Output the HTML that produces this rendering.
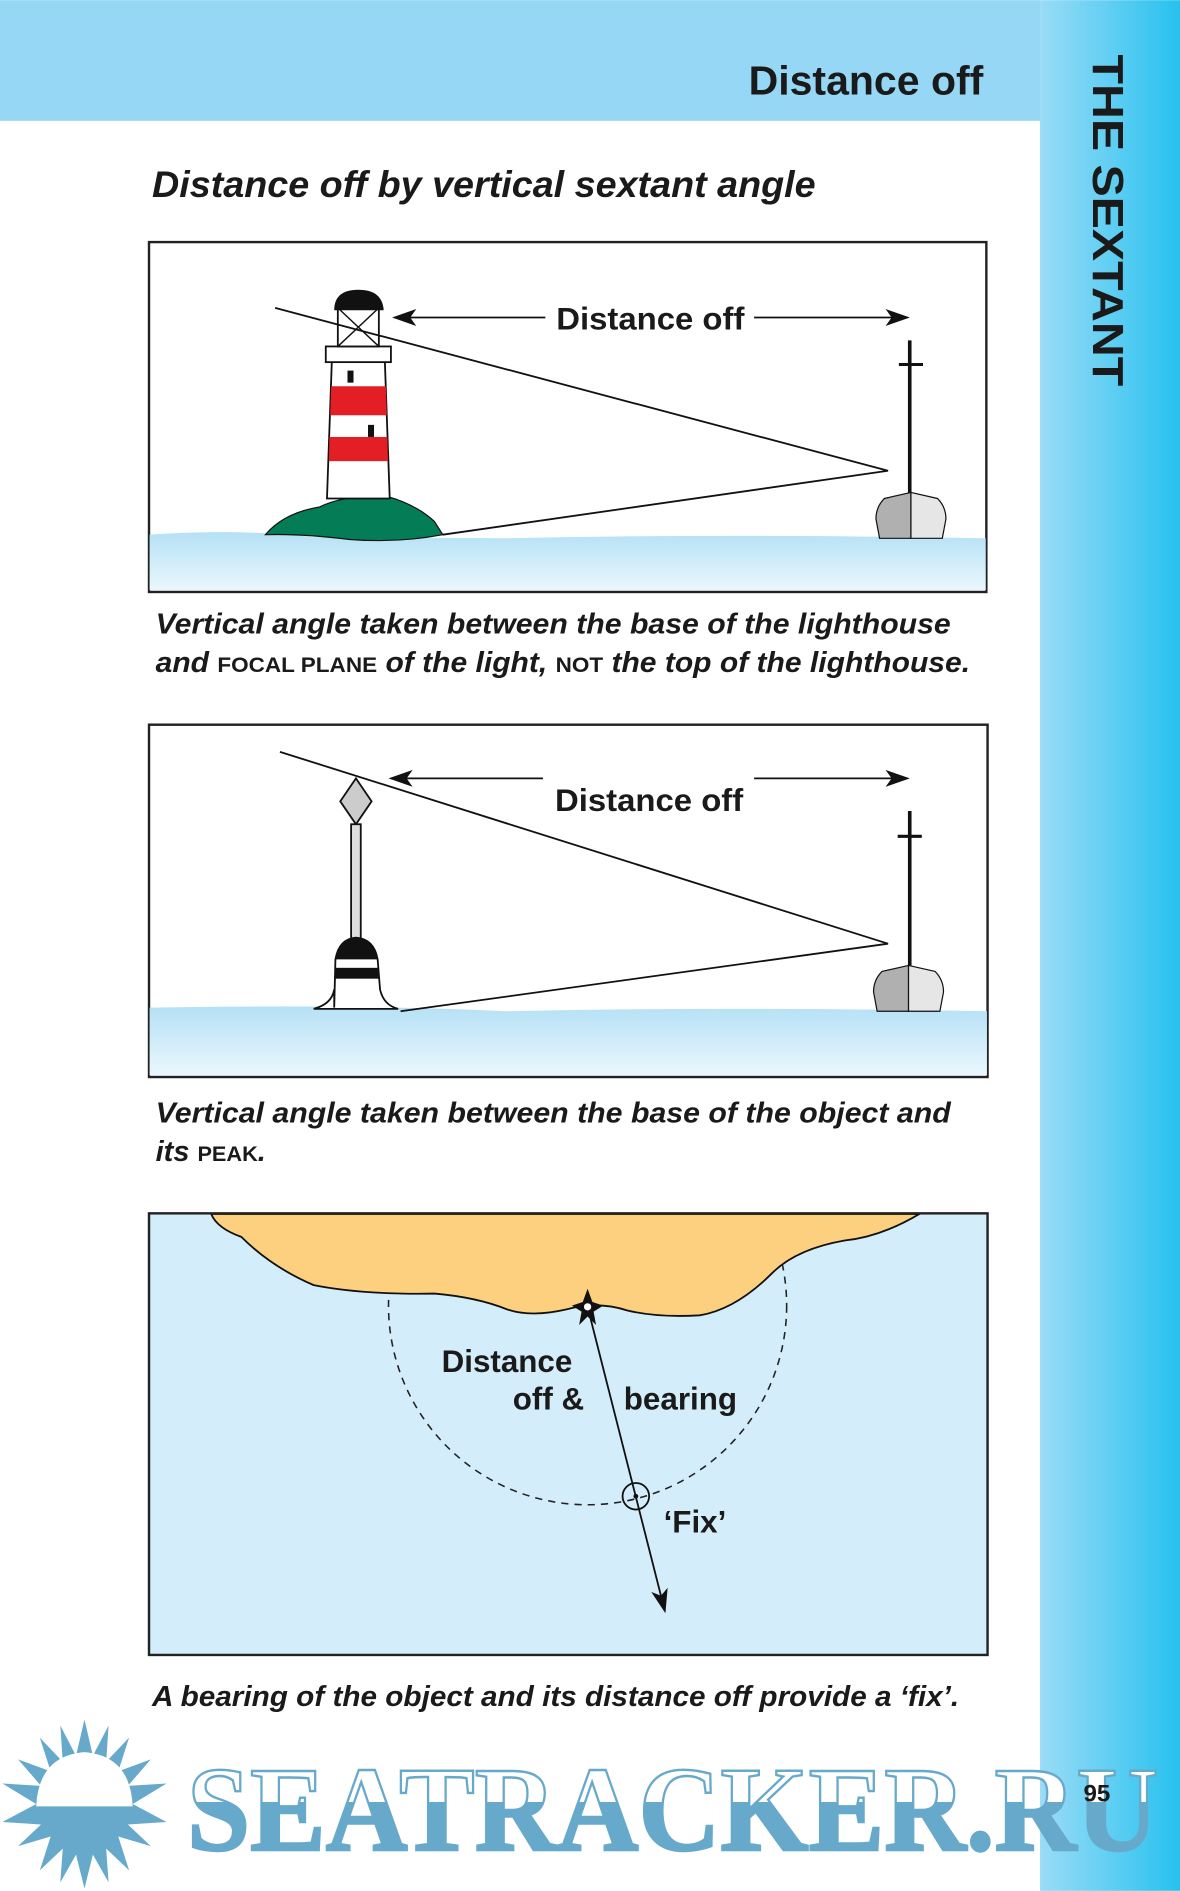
<!DOCTYPE html>
<html><head><meta charset="utf-8"><style>html,body{margin:0;padding:0;background:#fff}svg{display:block}</style></head><body>
<svg width="1180" height="1891" viewBox="0 0 978 1567" xmlns="http://www.w3.org/2000/svg" font-family="Liberation Sans, sans-serif">
<defs>
<linearGradient id="side" x1="0" x2="1" y1="0" y2="0"><stop offset="0" stop-color="#9adcf6"/><stop offset="1" stop-color="#27c1ef"/></linearGradient>
<linearGradient id="water" x1="0" x2="0" y1="0" y2="1"><stop offset="0" stop-color="#b5e1f5"/><stop offset="1" stop-color="#eaf7fd"/></linearGradient>
<linearGradient id="wm" x1="0" x2="0" y1="1455" y2="1535" gradientUnits="userSpaceOnUse"><stop offset="0.48" stop-color="#fff"/><stop offset="0.48" stop-color="#67a9cb"/></linearGradient>
<clipPath id="b3"><rect x="124" y="1006" width="694" height="365"/></clipPath>
<marker id="ah" viewBox="0 0 20 14" refX="18" refY="7" markerWidth="20" markerHeight="14" markerUnits="userSpaceOnUse" orient="auto"><path d="M0,0 L20,7 L0,14 L5,7Z" fill="#111"/></marker>
</defs>
<rect x="0" y="0" width="862" height="100" fill="#95d7f5"/>
<rect x="862" y="0" width="116" height="1567" fill="url(#side)"/>
<text x="815" y="78" text-anchor="end" font-size="34" font-weight="bold" fill="#1a1a1a">Distance off</text>
<text transform="translate(906,45) rotate(90)" font-size="36" font-weight="bold" fill="#1a1a1a" textLength="275" lengthAdjust="spacingAndGlyphs">THE SEXTANT</text>
<text x="126" y="163" font-size="31" font-weight="bold" font-style="italic" fill="#1a1a1a" textLength="550" lengthAdjust="spacingAndGlyphs">Distance off by vertical sextant angle</text>

<!-- Box 1 -->
<rect x="123.5" y="200.5" width="694" height="290" fill="#fff" stroke="#222" stroke-width="2"/>
<path d="M124,443 Q200,438 260,445 L420,446 Q600,442 817,446 L817,489 L124,489Z" fill="url(#water)"/>
<path d="M220,443 Q235,425 265,420 Q285,410 320,411 Q345,418 360,432 L367,443 Q330,450 290,447 Q250,442 220,443Z" fill="#047c55" stroke="#111"/>
<path d="M275,300 L319,300 L323,413 L271,413Z" fill="#fff" stroke="#111" stroke-width="1.5"/>
<path d="M274.5,320 L319.8,320 L320.6,344 L273.6,344Z M273,362 L321,362 L321.6,382 L272.6,382Z" fill="#e31e24"/>
<rect x="288" y="307" width="5" height="10" fill="#111"/><rect x="305" y="352" width="5" height="10" fill="#111"/>
<rect x="270" y="287" width="54" height="13" fill="#fff" stroke="#111" stroke-width="1.5"/>
<rect x="280" y="255" width="34" height="32" fill="#fff" stroke="#111" stroke-width="1.5"/>
<path d="M280,255 L314,287 M314,255 L280,287" stroke="#111" stroke-width="1.2"/>
<path d="M277,257 Q277,240 297,240 Q317,240 318,257Z" fill="#111"/>
<path d="M228,255 L736,390 L367,443" fill="none" stroke="#111" stroke-width="1.5"/>
<line x1="452" y1="263" x2="327" y2="263" stroke="#111" stroke-width="1.5" marker-end="url(#ah)"/>
<line x1="625" y1="263" x2="752" y2="263" stroke="#111" stroke-width="1.5" marker-end="url(#ah)"/>
<text x="461" y="273" font-size="26" font-weight="bold" fill="#1a1a1a" textLength="156" lengthAdjust="spacingAndGlyphs">Distance off</text>
<line x1="754" y1="282" x2="754" y2="408" stroke="#111" stroke-width="3"/>
<line x1="745" y1="302" x2="765" y2="302" stroke="#111" stroke-width="2.5"/>
<path d="M755,408 L733,413 Q726,420 726,430 L729,446 L755,446Z" fill="#b0b0b0" stroke="#111"/>
<path d="M755,408 L777,413 Q784,420 784,430 L781,446 L755,446Z" fill="#e6e6e6" stroke="#111"/>

<text font-size="24" font-weight="bold" font-style="italic" fill="#1a1a1a"><tspan x="129" y="525" textLength="659" lengthAdjust="spacingAndGlyphs">Vertical angle taken between the base of the lighthouse</tspan></text>
<text font-size="24" font-weight="bold" font-style="italic" fill="#1a1a1a" x="129" y="557" textLength="675" lengthAdjust="spacingAndGlyphs">and <tspan font-size="18" font-style="normal">FOCAL PLANE</tspan> of the light, <tspan font-size="18" font-style="normal">NOT</tspan> the top of the lighthouse.</text>

<!-- Box 2 -->
<rect x="123.5" y="600.5" width="695" height="292" fill="#fff" stroke="#222" stroke-width="2"/>
<path d="M124,835 Q300,832 420,838 Q600,834 818,838 L818,891 L124,891Z" fill="url(#water)"/>
<path d="M295,645 L308,664 L295,683 L282,664Z" fill="#ccc" stroke="#111" stroke-width="1.5"/>
<rect x="291" y="683" width="8" height="95" fill="#ddd" stroke="#111" stroke-width="1.5"/>
<path d="M277,835 L278,795 Q281,778 295,777 Q310,778 313,795 L315,820 Q318,833 330,836 L260,836 Q275,832 277,820Z" fill="#fff" stroke="#111" stroke-width="1.5"/>
<path d="M278,795 Q281,778 295,777 Q310,778 313,795Z" fill="#111"/>
<rect x="278" y="802" width="36" height="9" fill="#111"/>
<path d="M232,623 L736,782 L332,838" fill="none" stroke="#111" stroke-width="1.5"/>
<line x1="450" y1="645" x2="324" y2="645" stroke="#111" stroke-width="1.5" marker-end="url(#ah)"/>
<line x1="625" y1="645" x2="752" y2="645" stroke="#111" stroke-width="1.5" marker-end="url(#ah)"/>
<text x="460" y="672" font-size="26" font-weight="bold" fill="#1a1a1a" textLength="156" lengthAdjust="spacingAndGlyphs">Distance off</text>
<line x1="754" y1="672" x2="754" y2="800" stroke="#111" stroke-width="3"/>
<line x1="744" y1="693" x2="764" y2="693" stroke="#111" stroke-width="2.5"/>
<path d="M753,800 L731,805 Q724,812 724,822 L727,838 L753,838Z" fill="#b0b0b0" stroke="#111"/>
<path d="M753,800 L775,805 Q782,812 782,822 L779,838 L753,838Z" fill="#e6e6e6" stroke="#111"/>

<text font-size="24" font-weight="bold" font-style="italic" fill="#1a1a1a" x="129" y="930" textLength="659" lengthAdjust="spacingAndGlyphs">Vertical angle taken between the base of the object and</text>
<text font-size="24" font-weight="bold" font-style="italic" fill="#1a1a1a" x="129" y="962">its <tspan font-size="18" font-style="normal">PEAK</tspan>.</text>

<!-- Box 3 -->
<rect x="123.5" y="1005.5" width="695" height="366" fill="#d3eefa" stroke="#222" stroke-width="2"/>
<g clip-path="url(#b3)">
<circle cx="487" cy="1082" r="165" fill="none" stroke="#222" stroke-width="1.3" stroke-dasharray="6,5"/>
<path d="M175,1006 L762,1006 Q730,1025 700,1028 Q660,1035 640,1055 Q610,1085 580,1090 Q545,1092 520,1086 Q495,1078 470,1085 Q440,1092 420,1085 Q395,1075 360,1072 Q300,1073 260,1065 Q225,1050 200,1025 Q180,1018 175,1006Z" fill="#fdd080" stroke="#111" stroke-width="1.5"/>
</g>
<line x1="487" y1="1083" x2="551" y2="1335" stroke="#111" stroke-width="1.5" marker-end="url(#ah)"/>
<path d="M487,1068 L491,1079 L500,1082 L492,1087 L494,1098 L487,1091 L480,1098 L482,1087 L474,1082 L483,1079Z" fill="#111"/>
<circle cx="487" cy="1083" r="3" fill="#fff"/>
<circle cx="527" cy="1240" r="11" fill="none" stroke="#111" stroke-width="1.5"/>
<circle cx="527" cy="1240" r="2" fill="#111"/>
<g font-size="26" font-weight="bold" fill="#1a1a1a"><text x="366" y="1137">Distance</text><text x="425" y="1168">off &amp;</text><text x="517" y="1168">bearing</text><text x="550" y="1270">‘Fix’</text></g>
<text x="126" y="1414" font-size="24" font-weight="bold" font-style="italic" fill="#1a1a1a" textLength="669" lengthAdjust="spacingAndGlyphs">A bearing of the object and its distance off provide a ‘fix’.</text>

<!-- watermark -->
<g fill="#67a9cb">
<polygon points="70,1425 77,1455 90,1430 88,1460 107,1440 98,1468 125,1458 106,1480 138,1478 110,1495 138,1510 106,1512 125,1530 98,1522 107,1550 88,1532 90,1560 77,1537 70,1565 63,1537 50,1560 52,1532 33,1550 42,1522 15,1530 34,1512 2,1510 30,1495 2,1478 34,1480 15,1458 42,1468 33,1440 52,1460 50,1430 63,1455"/>
</g>
<path d="M30,1497 Q32,1455 70,1452 Q108,1455 110,1497Z" fill="#fff"/>
<text x="155" y="1533" font-family="Liberation Serif, serif" font-weight="bold" font-size="100" fill="url(#wm)" stroke="#67a9cb" stroke-width="2" textLength="805" lengthAdjust="spacingAndGlyphs">SEATRACKER.RU</text>
<text x="898" y="1493" font-size="20" font-weight="bold" fill="#1a1a1a">95</text>
</svg>
</body></html>
